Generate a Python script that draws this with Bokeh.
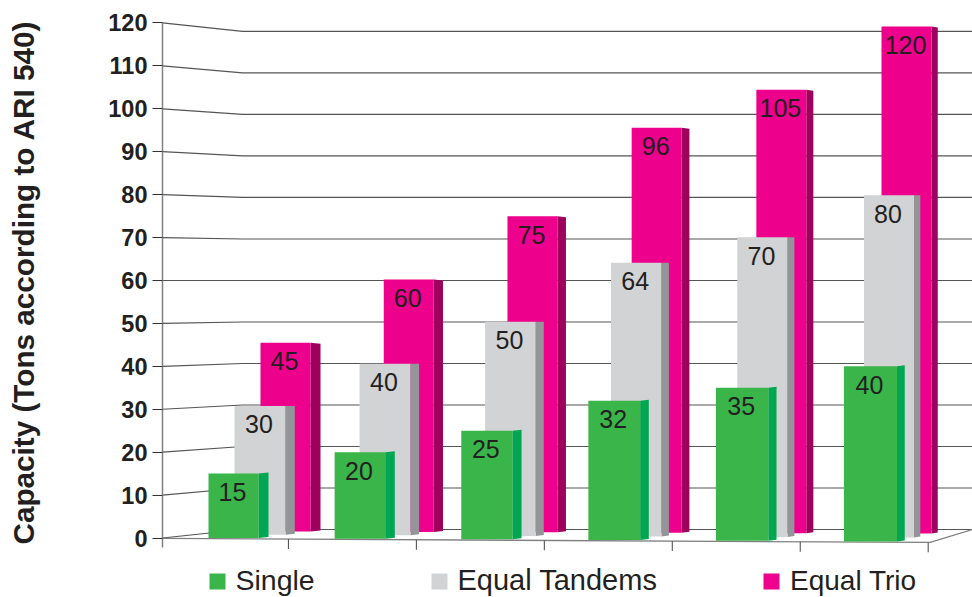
from math import pi

from bokeh.embed import file_html
from bokeh.resources import INLINE
from bokeh.plotting import figure
from bokeh.models import ColumnDataSource, FixedTicker, Label, Legend, LegendItem, Range1d
from bokeh.core.properties import value

# ---- data
SERIES = ["Single", "Equal Tandems", "Equal Trio"]
SINGLE = [15, 20, 25, 32, 35, 40]
TANDEMS = [30, 40, 50, 64, 70, 80]
TRIO = [45, 60, 75, 96, 105, 120]
TICKS = list(range(0, 130, 10))
CATEGORY_SLOTS = list(range(0, 7))
Y_TITLE = "Capacity (Tons according to ARI 540)"

FRONT = {"Single": "#3AB54A", "Equal Tandems": "#D1D3D4", "Equal Trio": "#EC008C"}
SIDE = {"Single": "#00A651", "Equal Tandems": "#939598", "Equal Trio": "#9E005D"}
VALUES = {"Single": SINGLE, "Equal Tandems": TANDEMS, "Equal Trio": TRIO}

W, H = 972, 597
AXIS_PX = 162          # pixel column of the value axis
PX_X = 127.95          # pixels per category slot
PX_Y = 4.292           # pixels per value unit
ZERO_PX = 537.5        # pixel row of value 0
x_end = (W - AXIS_PX) / PX_X

p = figure(width=W, height=H, output_backend="svg", toolbar_location=None,
           x_range=Range1d(-AXIS_PX / PX_X, x_end),
           y_range=Range1d(-(H - ZERO_PX) / PX_Y, ZERO_PX / PX_Y),
           min_border_left=0, min_border_right=0, min_border_top=0, min_border_bottom=0)
p.outline_line_color = None
p.grid.visible = False
p.xaxis.visible = False

ax = p.yaxis[0]
ax.fixed_location = 0
ax.ticker = FixedTicker(ticks=TICKS)
ax.bounds = (-2.3, 120)
ax.axis_line_color = "#808080"
ax.axis_line_width = 1.5
ax.major_tick_line_color = "#333333"
ax.major_tick_in = 0
ax.major_tick_out = 10
ax.minor_tick_line_color = None
ax.major_label_standoff = 5
ax.major_label_text_font = "Liberation Sans"
ax.major_label_text_font_style = "bold"
ax.major_label_text_font_size = "23.5px"
ax.major_label_text_color = "#231F20"

p.add_layout(Label(x=23, y=H - 282, x_units="screen", y_units="screen", text=Y_TITLE,
                   angle=pi / 2, text_align="center", text_baseline="middle",
                   text_font="Liberation Sans", text_font_style="bold",
                   text_font_size="29.7px", text_color="#231F20"))

# ---- walls: each gridline runs from the axis, back into depth, then across
WALL_X = 80 / PX_X


def back_value(v):
    return 1.98 + 0.967 * v


p.multi_line(xs=[[0, WALL_X, x_end] for _ in TICKS],
             ys=[[v, back_value(v), back_value(v)] for v in TICKS],
             line_color="#555555", line_width=1.2)


# ---- floor front edge, its right edge and the category ticks
def floor_value(slot):
    return -0.1 - 0.155 * slot


def tick_x(slot):
    return slot - 2 / PX_X


TICK_SLOTS = CATEGORY_SLOTS[1:]
p.line([0, CATEGORY_SLOTS[-1], x_end],
       [floor_value(0), floor_value(CATEGORY_SLOTS[-1]), back_value(0)],
       line_color="#808080", line_width=1.3)
p.segment(x0=[tick_x(s) for s in TICK_SLOTS], x1=[tick_x(s) for s in TICK_SLOTS],
          y0=[floor_value(s) for s in TICK_SLOTS],
          y1=[floor_value(s) - 2.3 for s in TICK_SLOTS],
          line_color="#555555", line_width=1.1)

# ---- simple perspective model of the bars (pixels, in slot index i)
MODEL = {
    "Single": dict(x0=46, x1=125.9, x2=0.24, w0=50, dw=0.6, s0=10, ds=-0.45, b0=0.0, db=-0.16,
                   t0=0.0, tk=1.0, lift=1.0),
    "Equal Tandems": dict(x0=72, x1=124.9, x2=0.2, w0=51, dw=-0.2, s0=9.3, ds=-0.6, b0=0.75, db=-0.13,
                          t0=1.28, tk=0.9825, lift=0.0),
    "Equal Trio": dict(x0=98, x1=123, x2=0.24, w0=50, dw=0.0, s0=10, ds=-0.75, b0=1.52, db=-0.1,
                       t0=1.28, tk=0.9825, lift=-1.0),
}
glyphs = {}
for name in reversed(SERIES):
    m = MODEL[name]
    left, right, top, bottom, xs, ys = [], [], [], [], [], []
    for i, v in enumerate(VALUES[name]):
        l = (m["x0"] + m["x1"] * i + m["x2"] * i * i) / PX_X
        r = l + (m["w0"] + m["dw"] * i) / PX_X
        t = m["t0"] + m["tk"] * v
        b = m["b0"] + m["db"] * i
        d = (m["s0"] + m["ds"] * i) / PX_X
        lift = m["lift"] / PX_Y
        left.append(l); right.append(r); top.append(t); bottom.append(b)
        xs.append([r, r + d, r + d, r])
        ys.append([t, t + lift, b + 1 / PX_Y, b])
    p.patches(xs=xs, ys=ys, fill_color=SIDE[name], line_color=None)
    glyphs[name] = p.quad(left=left, right=right, top=top, bottom=bottom,
                          fill_color=FRONT[name], line_color=None)
    src = ColumnDataSource(dict(x=[(a + c) / 2 - 1 / PX_X for a, c in zip(left, right)], y=top,
                                text=[str(v) for v in VALUES[name]]))
    p.text(x="x", y="y", text="text", source=src, text_align="center", text_baseline="middle",
           y_offset=18.5, text_font=value("Liberation Sans"), text_font_size="25px",
           text_color="#231F20")

LEGEND_X = {"Single": 206.5, "Equal Tandems": 428.5, "Equal Trio": 761}
LEGEND_FONT = {"Single": "28.5px", "Equal Tandems": "29px", "Equal Trio": "28px"}
for name in SERIES:
    p.add_layout(Legend(items=[LegendItem(label=name, renderers=[glyphs[name]])],
                        orientation="horizontal", location=(LEGEND_X[name], 0),
                        glyph_width=20, glyph_height=20, label_standoff=9, padding=0, margin=0,
                        border_line_color=None, background_fill_alpha=0,
                        label_text_font="Liberation Sans", label_text_font_size=LEGEND_FONT[name],
                        label_text_color="#231F20", label_height=32), "center")

open("out.html", "w").write(file_html(p, INLINE))
